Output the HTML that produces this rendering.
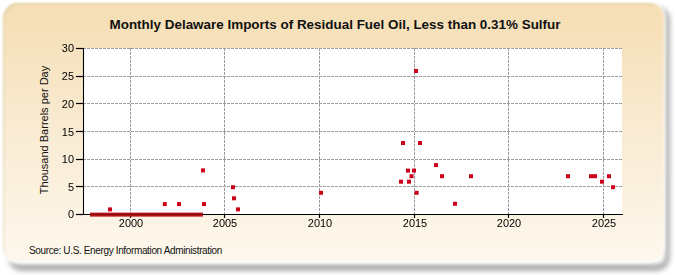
<!DOCTYPE html>
<html><head><meta charset="utf-8"><style>
html,body{margin:0;padding:0;background:#fff;}
body{width:675px;height:275px;position:relative;overflow:hidden;font-family:"Liberation Sans",sans-serif;}
.panel{position:absolute;left:3px;top:3px;width:661px;height:259px;border-radius:15px;
background:linear-gradient(to bottom,#f5deb3 0%,#f9ead0 45%,#fef8ee 100%);
box-shadow:0 0 1.5px 1px rgba(255,255,255,0.85), inset 1px 1px 1px rgba(170,160,110,0.35);filter:blur(0.8px);}
.shadow{position:absolute;left:8px;top:6px;width:657px;height:258px;border-radius:14px;border:solid rgba(30,30,30,0.36);border-width:0 5px 7px 0;filter:blur(2.8px);}
svg{position:absolute;left:0;top:0;}
.t{position:absolute;left:0;width:670px;top:16.5px;text-align:center;font-weight:bold;font-size:13.45px;color:#111;line-height:16px;}
.yl{position:absolute;left:40px;width:34px;text-align:right;font-size:11.8px;line-height:14px;color:#000;transform:scaleX(0.93);transform-origin:100% 50%;}
.xl{position:absolute;top:215.8px;width:40px;text-align:center;font-size:11.8px;line-height:14px;color:#000;transform:scaleX(0.93);}
.src{position:absolute;left:29px;top:243.6px;font-size:10px;line-height:13px;color:#111;letter-spacing:-0.36px;}
.ylab{position:absolute;left:43.6px;top:129.6px;width:0;height:0;}
.ylab div{position:absolute;transform:translate(-50%,-50%) rotate(-90deg);white-space:nowrap;font-size:11px;line-height:13px;color:#111;}
</style></head><body>
<div class="shadow"></div><div class="panel"></div>
<div class="t">Monthly Delaware Imports of Residual Fuel Oil, Less than 0.31% Sulfur</div>
<svg width="675" height="275" viewBox="0 0 675 275">
<rect x="84" y="48" width="538" height="166" fill="#fff"/>
<line x1="83" y1="186.5" x2="622" y2="186.5" stroke="#9c9c9c" stroke-width="1" stroke-dasharray="3,1"/>
<line x1="83" y1="159.5" x2="622" y2="159.5" stroke="#9c9c9c" stroke-width="1" stroke-dasharray="3,1"/>
<line x1="83" y1="131.5" x2="622" y2="131.5" stroke="#9c9c9c" stroke-width="1" stroke-dasharray="3,1"/>
<line x1="83" y1="103.5" x2="622" y2="103.5" stroke="#9c9c9c" stroke-width="1" stroke-dasharray="3,1"/>
<line x1="83" y1="76.5" x2="622" y2="76.5" stroke="#9c9c9c" stroke-width="1" stroke-dasharray="3,1"/>
<line x1="83" y1="48.5" x2="622" y2="48.5" stroke="#9c9c9c" stroke-width="1" stroke-dasharray="3,1"/>
<line x1="130.5" y1="48" x2="130.5" y2="214" stroke="#9c9c9c" stroke-width="1" stroke-dasharray="3,1"/>
<line x1="224.5" y1="48" x2="224.5" y2="214" stroke="#9c9c9c" stroke-width="1" stroke-dasharray="3,1"/>
<line x1="319.5" y1="48" x2="319.5" y2="214" stroke="#9c9c9c" stroke-width="1" stroke-dasharray="3,1"/>
<line x1="414.5" y1="48" x2="414.5" y2="214" stroke="#9c9c9c" stroke-width="1" stroke-dasharray="3,1"/>
<line x1="508.5" y1="48" x2="508.5" y2="214" stroke="#9c9c9c" stroke-width="1" stroke-dasharray="3,1"/>
<line x1="603.5" y1="48" x2="603.5" y2="214" stroke="#9c9c9c" stroke-width="1" stroke-dasharray="3,1"/>
<line x1="83.5" y1="48" x2="83.5" y2="215" stroke="#000" stroke-width="1.1"/>
<line x1="83" y1="214.5" x2="623" y2="214.5" stroke="#000" stroke-width="1.05"/>
<line x1="76" y1="214.5" x2="84" y2="214.5" stroke="#000" stroke-width="1.2"/>
<line x1="76" y1="186.5" x2="84" y2="186.5" stroke="#000" stroke-width="1.2"/>
<line x1="76" y1="159.5" x2="84" y2="159.5" stroke="#000" stroke-width="1.2"/>
<line x1="76" y1="131.5" x2="84" y2="131.5" stroke="#000" stroke-width="1.2"/>
<line x1="76" y1="103.5" x2="84" y2="103.5" stroke="#000" stroke-width="1.2"/>
<line x1="76" y1="76.5" x2="84" y2="76.5" stroke="#000" stroke-width="1.2"/>
<line x1="76" y1="48.5" x2="84" y2="48.5" stroke="#000" stroke-width="1.2"/>
<line x1="130.5" y1="214" x2="130.5" y2="218" stroke="#000" stroke-width="1.2"/>
<line x1="224.5" y1="214" x2="224.5" y2="218" stroke="#000" stroke-width="1.2"/>
<line x1="319.5" y1="214" x2="319.5" y2="218" stroke="#000" stroke-width="1.2"/>
<line x1="414.5" y1="214" x2="414.5" y2="218" stroke="#000" stroke-width="1.2"/>
<line x1="508.5" y1="214" x2="508.5" y2="218" stroke="#000" stroke-width="1.2"/>
<line x1="603.5" y1="214" x2="603.5" y2="218" stroke="#000" stroke-width="1.2"/>
<rect x="90" y="212.6" width="113" height="4" fill="#bc141c"/>
<line x1="90" y1="214.5" x2="203" y2="214.5" stroke="#800808" stroke-width="1.1"/>
<rect x="108.0" y="207.4" width="4" height="4" fill="#cc0018"/>
<rect x="162.8" y="202.1" width="4" height="4" fill="#cc0018"/>
<rect x="177.0" y="202.1" width="4" height="4" fill="#cc0018"/>
<rect x="201.0" y="168.4" width="4" height="4" fill="#cc0018"/>
<rect x="202.0" y="202.1" width="4" height="4" fill="#cc0018"/>
<rect x="231.0" y="185.2" width="4" height="4" fill="#cc0018"/>
<rect x="232.0" y="196.3" width="4" height="4" fill="#cc0018"/>
<rect x="236.0" y="207.4" width="4" height="4" fill="#cc0018"/>
<rect x="319.0" y="190.8" width="4" height="4" fill="#cc0018"/>
<rect x="399.0" y="179.7" width="4" height="4" fill="#cc0018"/>
<rect x="401.0" y="141.0" width="4" height="4" fill="#cc0018"/>
<rect x="406.0" y="168.6" width="4" height="4" fill="#cc0018"/>
<rect x="407.0" y="179.7" width="4" height="4" fill="#cc0018"/>
<rect x="409.5" y="174.2" width="4" height="4" fill="#cc0018"/>
<rect x="412.0" y="168.6" width="4" height="4" fill="#cc0018"/>
<rect x="414.0" y="69.0" width="4" height="4" fill="#cc0018"/>
<rect x="414.6" y="190.8" width="4" height="4" fill="#cc0018"/>
<rect x="418.0" y="141.0" width="4" height="4" fill="#cc0018"/>
<rect x="434.0" y="163.1" width="4" height="4" fill="#cc0018"/>
<rect x="440.0" y="174.2" width="4" height="4" fill="#cc0018"/>
<rect x="453.0" y="201.8" width="4" height="4" fill="#cc0018"/>
<rect x="469.0" y="174.2" width="4" height="4" fill="#cc0018"/>
<rect x="566.0" y="174.2" width="4" height="4" fill="#cc0018"/>
<rect x="589.0" y="174.2" width="4" height="4" fill="#cc0018"/>
<rect x="593.0" y="174.2" width="4" height="4" fill="#cc0018"/>
<rect x="600.0" y="179.7" width="4" height="4" fill="#cc0018"/>
<rect x="607.0" y="174.2" width="4" height="4" fill="#cc0018"/>
<rect x="611.0" y="185.2" width="4" height="4" fill="#cc0018"/>
</svg>
<div class="yl" style="top:206.5px">0</div><div class="yl" style="top:179.5px">5</div><div class="yl" style="top:151.5px">10</div><div class="yl" style="top:124.5px">15</div><div class="yl" style="top:96.5px">20</div><div class="yl" style="top:68.5px">25</div><div class="yl" style="top:40.5px">30</div>
<div class="xl" style="left:110.5px">2000</div><div class="xl" style="left:204.5px">2005</div><div class="xl" style="left:299.5px">2010</div><div class="xl" style="left:394.5px">2015</div><div class="xl" style="left:488.5px">2020</div><div class="xl" style="left:583.5px">2025</div>
<div class="ylab"><div>Thousand Barrels per Day</div></div>
<div class="src">Source: U.S. Energy Information Administration</div>
</body></html>
